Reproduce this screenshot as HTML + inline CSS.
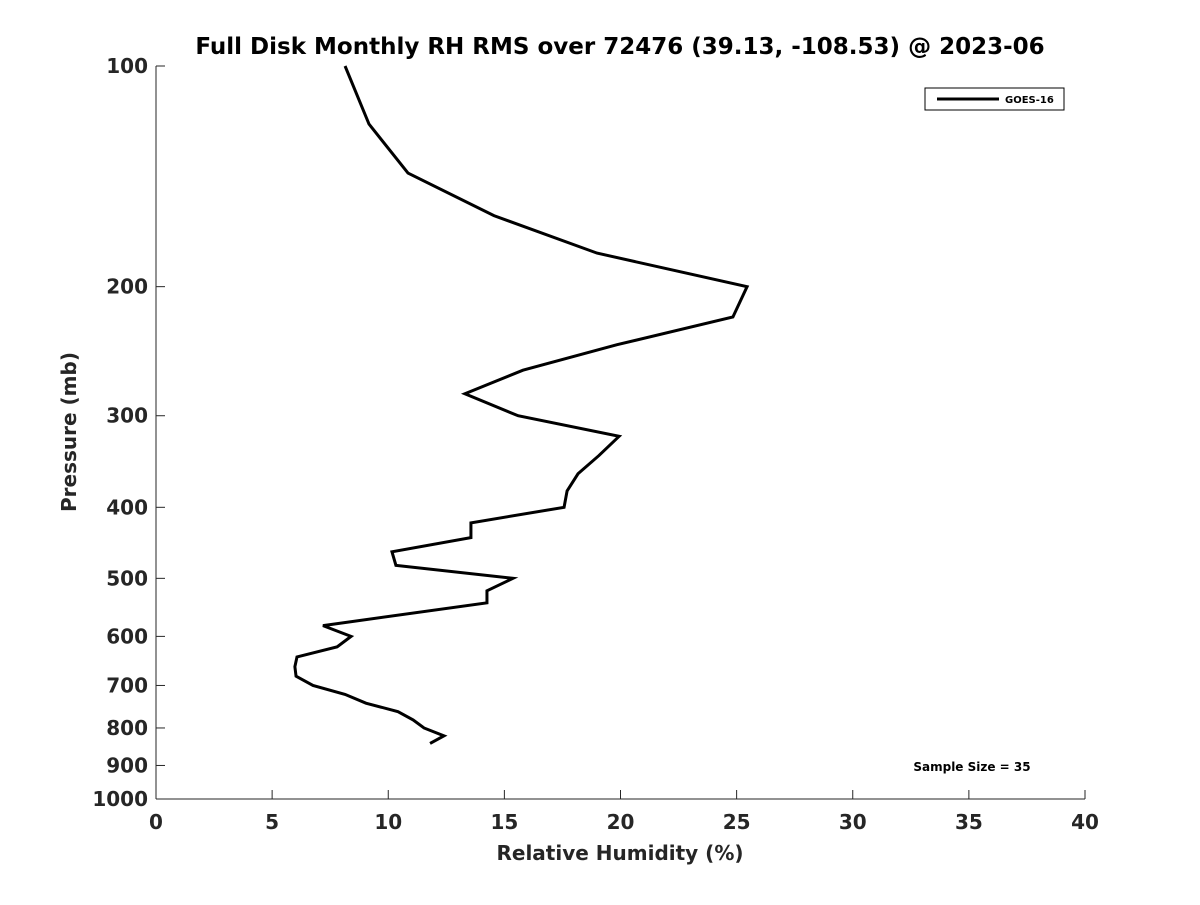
<!DOCTYPE html>
<html><head><meta charset="utf-8"><style>
body{margin:0;background:#fff;}
svg text{font-family:"DejaVu Sans","Liberation Sans",sans-serif;font-weight:bold;fill:#262626;}
</style></head><body>
<svg width="1200" height="900" xmlns="http://www.w3.org/2000/svg">
<text x="620" y="54" text-anchor="middle" font-size="23" style="fill:#000">Full Disk Monthly RH RMS over 72476 (39.13, -108.53) @ 2023-06</text>
<g id="axes"></g>
<text x="620" y="860" text-anchor="middle" font-size="20">Relative Humidity (%)</text>
<text transform="translate(76,432) rotate(-90)" text-anchor="middle" font-size="20">Pressure (mb)</text>
<g>
<rect x="925" y="88" width="139" height="22" fill="#fff" stroke="#000" stroke-width="1"/>
<line x1="937" y1="99" x2="999" y2="99" stroke="#000" stroke-width="3"/>
<text x="1005" y="103" font-size="10" style="fill:#000">GOES-16</text>
</g>
<text x="972" y="771" text-anchor="middle" font-size="12" style="fill:#000">Sample Size = 35</text>
</svg>
<script>
const rhValues=[8.14,9.17,10.85,14.55,18.99,25.45,24.84,19.85,15.8,13.3,15.59,19.94,19.07,18.17,17.7,17.57,13.56,13.56,10.16,10.33,15.37,14.25,14.25,7.19,8.4,7.8,6.07,5.98,6.03,6.76,8.14,9.04,10.42,11.07,11.54,12.4,11.8];
const pressures=[100,120,140,160,180,200,220,240,260,280,300,320,340,360,380,400,420,440,460,480,500,520,540,580,600,620,640,660,680,700,720,740,760,780,800,820,840];
const xTicks=[0,5,10,15,20,25,30,35,40];
const yTicks=[100,200,300,400,500,600,700,800,900,1000];
const NS="http://www.w3.org/2000/svg";
const X0=156,X1=1085,Y0=66,Y1=799;
const xs=v=>X0+(v/40)*(X1-X0);
const ys=p=>Y0+Math.log10(p/100)*(Y1-Y0);
const g=document.getElementById('axes');
function mk(t,a){const e=document.createElementNS(NS,t);for(const k in a)e.setAttribute(k,a[k]);g.appendChild(e);return e;}
const xa=mk('line',{x1:X0,y1:Y1,x2:X1,y2:Y1,stroke:'#262626','stroke-width':1});


const ya=mk('line',{x1:X0,y1:Y0,x2:X0,y2:Y1,stroke:'#262626','stroke-width':1});


xTicks.forEach(v=>{
 mk('line',{x1:xs(v),y1:Y1,x2:xs(v),y2:Y1-9,stroke:'#262626'});
 const t=mk('text',{x:xs(v),y:Y1+30,'text-anchor':'middle','font-size':20});
 t.textContent=v;
 
 
});
yTicks.forEach(p=>{
 mk('line',{x1:X0,y1:ys(p),x2:X0+9,y2:ys(p),stroke:'#262626'});
 const t=mk('text',{x:X0-8,y:ys(p)+7,'text-anchor':'end','font-size':20});
 t.textContent=p;
 
 
});
const pts=rhValues.map((v,i)=>xs(v)+','+ys(pressures[i])).join(' ');
const line=mk('polyline',{points:pts,fill:'none',stroke:'#000','stroke-width':3,'stroke-linejoin':'miter'});


</script>
</body></html>
